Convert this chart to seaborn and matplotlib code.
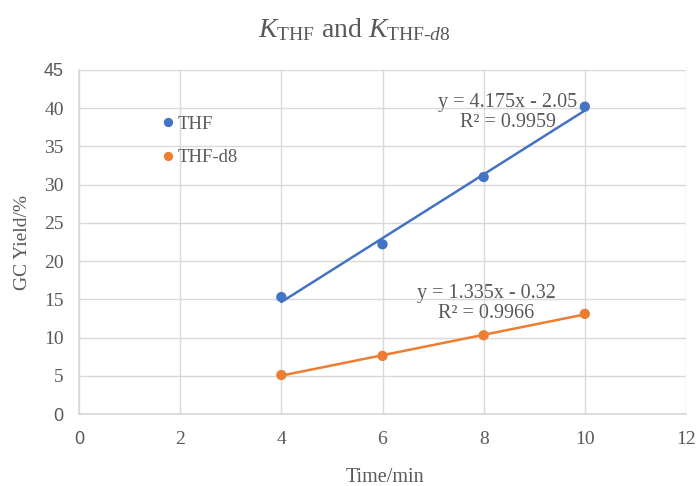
import matplotlib
matplotlib.use("Agg")
import matplotlib.pyplot as plt
import seaborn as sns
import numpy as np
import pandas as pd

# ---- data ----
time_min = [4, 6, 8, 10]
thf_yield = [15.3, 22.2, 31.0, 40.2]
thf_d8_yield = [5.1, 7.6, 10.3, 13.1]
series_names = ["THF", "THF-d8"]
x_ticks = [0, 2, 4, 6, 8, 10, 12]
y_ticks = [0, 5, 10, 15, 20, 25, 30, 35, 40, 45]
eq_thf = ["y = 4.175x - 2.05", "R² = 0.9959"]
eq_d8 = ["y = 1.335x - 0.32", "R² = 0.9966"]

sns.set_theme(style="whitegrid")
plt.rcParams["font.family"] = ["Liberation Serif", "DejaVu Serif"]
plt.rcParams["mathtext.fontset"] = "custom"
plt.rcParams["mathtext.rm"] = "Liberation Serif"
plt.rcParams["mathtext.it"] = "Liberation Serif:italic"

grey = "#595959"
blue = "#4472C4"
orange = "#ED7D31"

df = pd.DataFrame({
    "Time": time_min * 2,
    "Yield": thf_yield + thf_d8_yield,
    "Series": [series_names[0]] * 4 + [series_names[1]] * 4,
})

fig = plt.figure(figsize=(6.96, 4.86), dpi=100)
ax = fig.add_axes([79/696, 1 - 414/486, (686 - 79)/696, (414 - 70)/486])

palette = {series_names[0]: blue, series_names[1]: orange}
sns.scatterplot(data=df, x="Time", y="Yield", hue="Series", palette=palette,
                s=55, edgecolor="none", ax=ax, zorder=4, legend=True)

# trendlines
for ys, c in [(thf_yield, blue), (thf_d8_yield, orange)]:
    m, b = np.polyfit(time_min, ys, 1)
    xs = np.array([min(time_min), max(time_min)])
    ax.plot(xs, m * xs + b, color=c, lw=1.8, zorder=3)

ax.set_xlim(0, 12)
ax.set_ylim(0, 45)
ax.set_xticks(x_ticks)
ax.set_yticks(y_ticks)
ax.grid(True, color="#d9d9d9", lw=1.0)
for s in ax.spines.values():
    s.set_visible(False)
ax.spines["left"].set_visible(True)
ax.spines["bottom"].set_visible(True)
ax.spines["left"].set_color("#d9d9d9")
ax.spines["bottom"].set_color("#d9d9d9")
ax.tick_params(axis="both", length=0, labelsize=14, labelcolor=grey)
ax.tick_params(axis="x", pad=12)
ax.tick_params(axis="y", pad=11)

for lab in ax.get_xticklabels() + ax.get_yticklabels():
    if lab.get_text() in ("0", "45"):
        lab.set_family(["Liberation Sans", "DejaVu Sans"])
        lab.set_fontsize(13)

ax.set_xlabel("Time/min", fontsize=14.5, color=grey)
ax.set_ylabel("GC Yield/%", fontsize=14, color=grey)
ax.xaxis.set_label_coords((385 - 79) / 607, (414 - 468) / 344)
ax.yaxis.set_label_coords((31 - 79) / 607, 0.5)

fig.text(354 / 696, 1 - 30/486,
         r"$K_{\mathrm{THF}}$ and $K_{\mathrm{THF}\text{-}\mathit{d8}}$",
         ha="center", va="center", fontsize=20, color=grey)

ax.text(8.48, 39.4, eq_thf[0] + "\n" + eq_thf[1], ha="center", va="center",
        multialignment="center", fontsize=14.5, color=grey, linespacing=1.08)
ax.text(8.05, 14.4, eq_d8[0] + "\n" + eq_d8[1], ha="center", va="center",
        multialignment="center", fontsize=14.5, color=grey, linespacing=1.08)

leg = ax.legend(loc="center left", bbox_to_anchor=(0.131, (414 - 141) / 344),
                frameon=False, fontsize=13.5, handletextpad=0.0, handlelength=1.0,
                labelspacing=0.88, borderpad=0, borderaxespad=0,
                markerscale=0.9, title=None)
for t in leg.get_texts():
    t.set_color(grey)

fig.savefig("out.png", dpi=100)
